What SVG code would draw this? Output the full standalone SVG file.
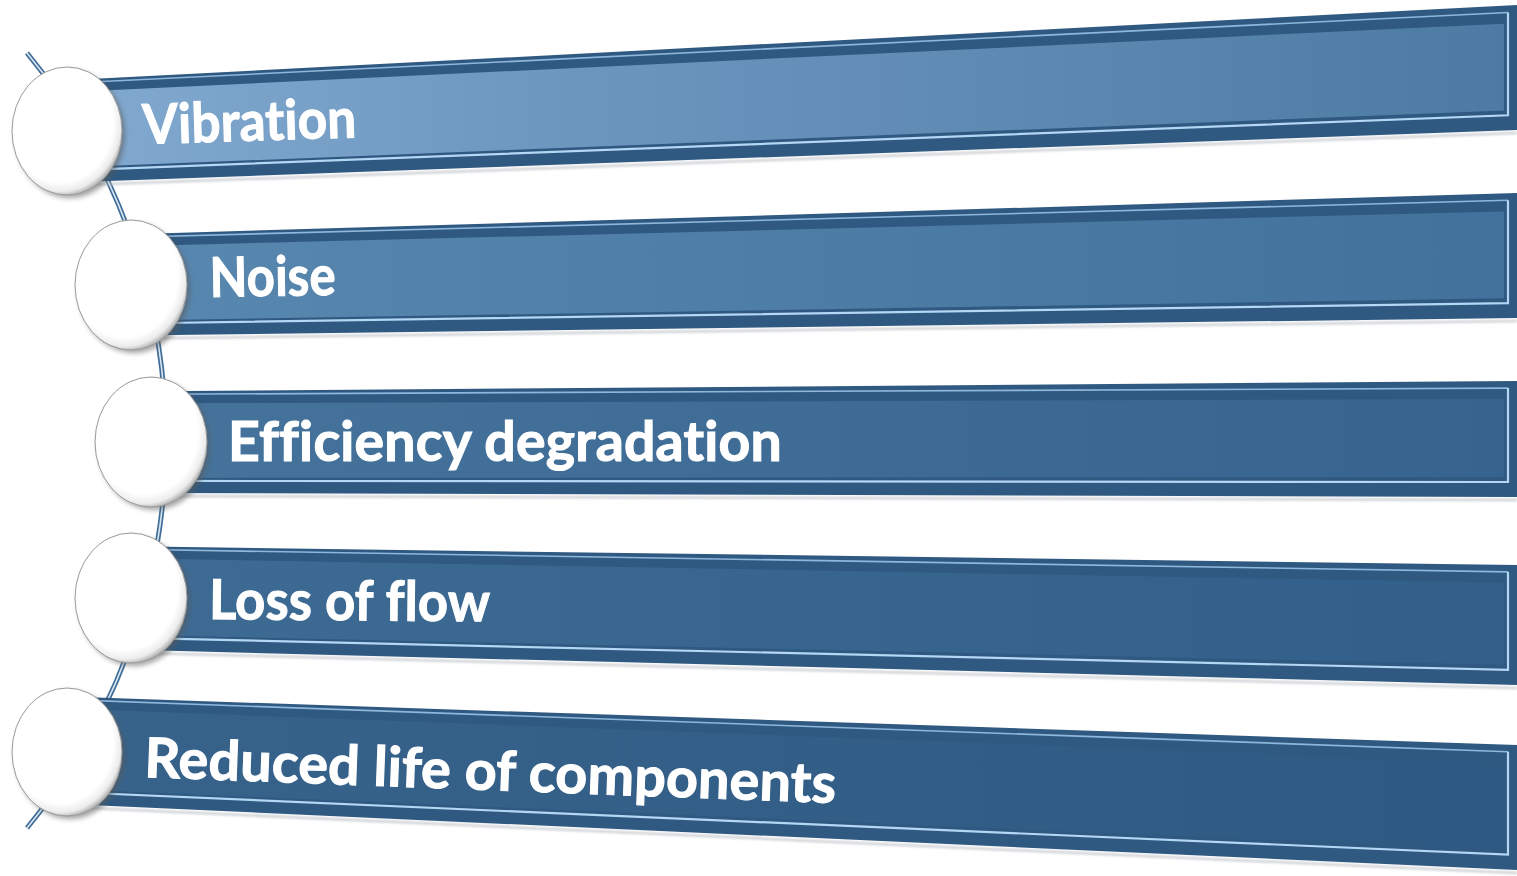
<svg xmlns="http://www.w3.org/2000/svg" width="1517" height="876" viewBox="0 0 1517 876">
  <defs>
    <linearGradient id="face1" gradientUnits="userSpaceOnUse" x1="66" y1="0" x2="1517" y2="0">
      <stop offset="0" stop-color="#82aad0"/>
      <stop offset="0.35" stop-color="#6d96bf"/>
      <stop offset="1" stop-color="#4c7aa3"/>
    </linearGradient>
    <linearGradient id="face2" gradientUnits="userSpaceOnUse" x1="131" y1="0" x2="1517" y2="0">
      <stop offset="0" stop-color="#5887b0"/>
      <stop offset="1" stop-color="#42719b"/>
    </linearGradient>
    <linearGradient id="face3" gradientUnits="userSpaceOnUse" x1="151" y1="0" x2="1517" y2="0">
      <stop offset="0" stop-color="#46739c"/>
      <stop offset="1" stop-color="#36648e"/>
    </linearGradient>
    <linearGradient id="face4" gradientUnits="userSpaceOnUse" x1="131" y1="0" x2="1517" y2="0">
      <stop offset="0" stop-color="#3e6b94"/>
      <stop offset="1" stop-color="#315f89"/>
    </linearGradient>
    <linearGradient id="face5" gradientUnits="userSpaceOnUse" x1="67" y1="0" x2="1517" y2="0">
      <stop offset="0" stop-color="#37638b"/>
      <stop offset="1" stop-color="#2d5983"/>
    </linearGradient>
    <radialGradient id="disc" cx="0.44" cy="0.42" r="0.6">
      <stop offset="0" stop-color="#ffffff"/>
      <stop offset="0.8" stop-color="#ffffff"/>
      <stop offset="0.92" stop-color="#ececec"/>
      <stop offset="1" stop-color="#a9a9a9"/>
    </radialGradient>
    <filter id="soft" x="-20%" y="-20%" width="140%" height="140%">
      <feGaussianBlur stdDeviation="2.5"/>
    </filter>
    <filter id="haze" x="-5%" y="-50%" width="110%" height="200%">
      <feGaussianBlur stdDeviation="1"/>
    </filter>
  </defs>
  <style>
    .frame { fill: #2f5980; }
    .hl-top { fill: none; stroke: #8fb7db; stroke-width: 1.6; }
    .hl-bot { fill: none; stroke: #b3d7f4; stroke-width: 2.2; stroke-linejoin: miter; }
    .under { fill: none; stroke: #b9bec4; stroke-width: 2.5; opacity: 0.7; }
    .disc { fill: url(#disc); stroke: #9a9a9a; stroke-width: 1; }
    .disc-shadow { fill: #5a5a5a; opacity: 0.55; }
    .label { fill: #ffffff; stroke: #ffffff; stroke-width: 1.1; font-family: Lato, "Open Sans", "Liberation Sans", sans-serif; font-weight: 700; font-size: 55px; letter-spacing: 0.2px; font-variant-ligatures: none; font-feature-settings: "liga" 0, "clig" 0; }
    .spine-out { fill: none; stroke: #3f6d98; stroke-width: 5; }
    .spine-in { fill: none; stroke: #dbe7f2; stroke-width: 1.6; }
  </style>

  <rect width="1517" height="876" fill="#ffffff"/>

  <!-- curved spine linking the discs -->
  <g id="connectors">
    <path class="spine-out" d="M27,53 A610,610 0 0 1 27,828"/>
    <path class="spine-in" d="M27,53 A610,610 0 0 1 27,828"/>
  </g>

  <!-- item 1 -->
  <g id="node-vibration">
    <polyline class="under" filter="url(#haze)" points="66,185.6 1517,133"/>
    <polygon class="frame" points="66,80.3 1518,5 1518,130 66,182.6"/>
    <polygon fill="url(#face1)" points="66,92.3 1504,23.7 1504,110.5 66,167.6"/>
    <polyline class="hl-top" points="66,83.3 1508,12.5"/>
    <polyline class="hl-bot" points="1508,12.5 1508,115.3 66,170.6"/>
    <text class="label" x="143" y="144" textLength="214" lengthAdjust="spacingAndGlyphs" transform="rotate(-1.8 143 144)">Vibration</text>
    <ellipse class="disc-shadow" filter="url(#soft)" cx="70" cy="134" rx="55" ry="64"/>
    <ellipse class="disc" cx="67" cy="131" rx="55" ry="64"/>
  </g>

  <!-- item 2 -->
  <g id="node-noise">
    <polyline class="under" filter="url(#haze)" points="131,338.5 1517,321"/>
    <polygon class="frame" points="131,234.2 1518,193 1518,318 131,335.5"/>
    <polygon fill="url(#face2)" points="131,246.2 1504,211.4 1504,298.2 131,320.5"/>
    <polyline class="hl-top" points="131,237.2 1508,200.3"/>
    <polyline class="hl-bot" points="1508,200.3 1508,303.1 131,323.5"/>
    <text class="label" x="210" y="297" textLength="126" lengthAdjust="spacingAndGlyphs" transform="rotate(-1 210 297)">Noise</text>
    <ellipse class="disc-shadow" filter="url(#soft)" cx="134" cy="288" rx="56" ry="65"/>
    <ellipse class="disc" cx="131" cy="285" rx="56" ry="65"/>
  </g>

  <!-- item 3 -->
  <g id="node-efficiency">
    <polyline class="under" filter="url(#haze)" points="151,495.9 1517,500"/>
    <polygon class="frame" points="151,391.3 1518,381 1518,497 151,492.9"/>
    <polygon fill="url(#face3)" points="151,403.3 1504,399.1 1504,477 151,477.9"/>
    <polyline class="hl-top" points="151,394.3 1508,388.1"/>
    <polyline class="hl-bot" points="1508,388.1 1508,482 151,480.9"/>
    <text class="label" x="228" y="461" textLength="554" lengthAdjust="spacingAndGlyphs">Efficiency degradation</text>
    <ellipse class="disc-shadow" filter="url(#soft)" cx="154" cy="445" rx="56" ry="65"/>
    <ellipse class="disc" cx="151" cy="442" rx="56" ry="65"/>
  </g>

  <!-- item 4 -->
  <g id="node-loss-of-flow">
    <polyline class="under" filter="url(#haze)" points="131,652.8 1517,688"/>
    <polygon class="frame" points="131,546.3 1518,565 1518,685 131,649.8"/>
    <polygon fill="url(#face4)" points="131,558.3 1504,582.8 1504,664.7 131,634.8"/>
    <polyline class="hl-top" points="131,549.3 1508,571.9"/>
    <polyline class="hl-bot" points="1508,571.9 1508,669.8 131,637.8"/>
    <text class="label" x="209" y="619" textLength="281" lengthAdjust="spacingAndGlyphs" transform="rotate(0.5 209 619)">Loss of flow</text>
    <ellipse class="disc-shadow" filter="url(#soft)" cx="134" cy="601" rx="56" ry="65"/>
    <ellipse class="disc" cx="131" cy="598" rx="56" ry="65"/>
  </g>

  <!-- item 5 -->
  <g id="node-reduced-life">
    <polyline class="under" filter="url(#haze)" points="67,807 1517,873"/>
    <polygon class="frame" points="67,696.6 1518,745 1518,870 67,804"/>
    <polygon fill="url(#face5)" points="67,708.6 1504,762.6 1504,849.4 67,789"/>
    <polyline class="hl-top" points="67,699.6 1508,751.7"/>
    <polyline class="hl-bot" points="1508,751.7 1508,854.6 67,792"/>
    <text class="label" x="144" y="777" textLength="692" lengthAdjust="spacingAndGlyphs" transform="rotate(2.15 144 777)">Reduced life of components</text>
    <ellipse class="disc-shadow" filter="url(#soft)" cx="70" cy="755" rx="55" ry="64"/>
    <ellipse class="disc" cx="67" cy="752" rx="55" ry="64"/>
  </g>
</svg>
